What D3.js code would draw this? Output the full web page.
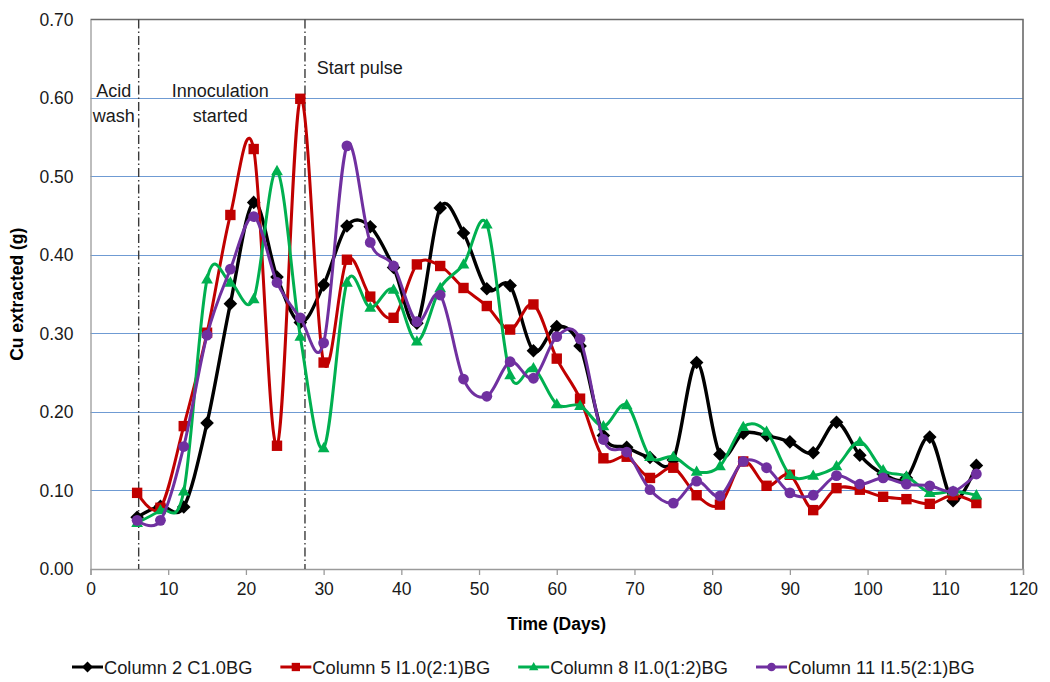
<!DOCTYPE html>
<html>
<head>
<meta charset="utf-8">
<script src="https://cdn.jsdelivr.net/npm/d3@7"></script>
<style>
  html, body { margin: 0; padding: 0; background: #fff; }
  svg { display: block; font-family: "Liberation Sans", Arial, sans-serif; }
</style>
</head>
<body>
<svg id="chart" width="1050" height="682"></svg>
<script>
// Sampling days (every 3 days from day 6)
const days = [6, 9, 12, 15, 18, 21, 24, 27, 30, 33, 36, 39, 42, 45, 48, 51, 54, 57, 60,
              63, 66, 69, 72, 75, 78, 81, 84, 87, 90, 93, 96, 99, 102, 105, 108, 111, 114];

// Cu extracted (g) per column
const col2 = [0.066, 0.080, 0.079, 0.186, 0.338, 0.467, 0.372, 0.314, 0.362, 0.437, 0.436, 0.384,
              0.313, 0.460, 0.428, 0.357, 0.361, 0.278, 0.309, 0.284, 0.170, 0.155, 0.142, 0.139,
              0.263, 0.146, 0.173, 0.170, 0.162, 0.148, 0.187, 0.145, 0.121, 0.116, 0.168, 0.087, 0.132];
const col5 = [0.097, 0.078, 0.182, 0.301, 0.451, 0.535, 0.157, 0.599, 0.263, 0.394, 0.347, 0.320,
              0.388, 0.386, 0.358, 0.335, 0.305, 0.337, 0.268, 0.217, 0.141, 0.143, 0.116, 0.129,
              0.094, 0.082, 0.137, 0.106, 0.120, 0.075, 0.103, 0.101, 0.092, 0.089, 0.083, 0.094, 0.084];
const col8 = [0.059, 0.075, 0.099, 0.369, 0.365, 0.344, 0.507, 0.296, 0.154, 0.365, 0.333, 0.356,
              0.290, 0.358, 0.388, 0.439, 0.247, 0.256, 0.210, 0.208, 0.182, 0.209, 0.143, 0.143,
              0.124, 0.131, 0.181, 0.175, 0.120, 0.119, 0.131, 0.162, 0.126, 0.118, 0.097, 0.099, 0.094];
const col11 = [0.062, 0.062, 0.156, 0.298, 0.382, 0.449, 0.365, 0.320, 0.288, 0.539, 0.416, 0.386,
               0.315, 0.349, 0.242, 0.220, 0.264, 0.243, 0.296, 0.293, 0.165, 0.149, 0.101, 0.084,
               0.112, 0.093, 0.137, 0.129, 0.097, 0.094, 0.119, 0.108, 0.116, 0.108, 0.106, 0.099, 0.121];

const seriesNames = ["Column 2 C1.0BG", "Column 5 I1.0(2:1)BG", "Column 8 I1.0(1:2)BG", "Column 11 I1.5(2:1)BG"];
const seriesColors = ["#000000", "#c00000", "#00b050", "#7030a0"];
const seriesShapes = ["diamond", "square", "triangle", "circle"];
const seriesValues = [col2, col5, col8, col11];

const xTicks = [0, 10, 20, 30, 40, 50, 60, 70, 80, 90, 100, 110, 120];
const yTicks = [0, 0.1, 0.2, 0.3, 0.4, 0.5, 0.6, 0.7];

// Event markers (day) and their notes
const events = [6.2, 27.6];
const notes = [
  { day: 3.0, lines: ["Acid", "wash"], anchor: "middle" },
  { day: 16.7, lines: ["Innoculation", "started"], anchor: "middle" },
  { day: 29.1, lines: ["Start pulse"], anchor: "start", top: true }
];

const svg = d3.select("#chart");
const L = 90.5, R = 1023, T = 19.5, B = 569;
const x = d3.scaleLinear().domain([0, 120]).range([L, R]);
const y = d3.scaleLinear().domain([0, 0.7]).range([B, T]);

// Horizontal gridlines
svg.append("g").selectAll("line")
  .data(yTicks.filter(v => v > 0 && v < 0.7))
  .join("line")
  .attr("x1", L).attr("x2", R)
  .attr("y1", d => Math.round(y(d)) + 0.5).attr("y2", d => Math.round(y(d)) + 0.5)
  .attr("stroke", "#6f9bd3").attr("stroke-width", 1.2);

// Plot frame: top and right
svg.append("path")
  .attr("d", `M${L},${T} H${R} V${B}`)
  .attr("fill", "none").attr("stroke", "#6a6a6a").attr("stroke-width", 1.6);

// X axis
const xAxis = svg.append("g").attr("transform", `translate(0,${B})`)
  .call(d3.axisBottom(x).tickValues(xTicks).tickSize(6).tickPadding(8).tickFormat(d3.format("d")));
xAxis.select(".domain").attr("stroke", "#9a9a9a").attr("stroke-width", 1.3);
xAxis.selectAll(".tick line").attr("stroke", "#9a9a9a").attr("stroke-width", 1.3);
xAxis.selectAll("text").attr("font-size", 17.5).attr("fill", "#1a1a1a")
  .attr("font-family", "Liberation Sans, Arial, sans-serif");

// Y axis
const yAxis = svg.append("g").attr("transform", `translate(${L},0)`)
  .call(d3.axisLeft(y).tickValues(yTicks).tickSize(0).tickPadding(17).tickFormat(d3.format(".2f")));
yAxis.select(".domain").attr("stroke", "#9a9a9a").attr("stroke-width", 1.3);
yAxis.selectAll("text").attr("font-size", 17.5).attr("fill", "#1a1a1a")
  .attr("font-family", "Liberation Sans, Arial, sans-serif");

// Axis titles
svg.append("text")
  .attr("x", (L + R) / 2).attr("y", 630)
  .attr("text-anchor", "middle").attr("font-weight", "bold").attr("font-size", 17.5)
  .text("Time (Days)");
svg.append("text")
  .attr("transform", `translate(23,${(T + B) / 2}) rotate(-90)`)
  .attr("text-anchor", "middle").attr("font-weight", "bold").attr("font-size", 17.5)
  .text("Cu extracted (g)");

// Event lines
svg.append("g").selectAll("line")
  .data(events).join("line")
  .attr("x1", d => x(d)).attr("x2", d => x(d))
  .attr("y1", T).attr("y2", B)
  .attr("stroke", "#3a3a3a").attr("stroke-width", 1.4)
  .attr("stroke-dasharray", "9,3,1.5,3");

// Event notes
notes.forEach(n => {
  const t = svg.append("text")
    .attr("text-anchor", n.anchor).attr("font-size", 18).attr("fill", "#1a1a1a");
  n.lines.forEach((ln, i) => {
    t.append("tspan")
      .attr("x", x(n.day))
      .attr("y", (n.top ? 74 : 97) + i * 25)
      .text(ln);
  });
});

// Marker shapes
function markerPath(shape, s) {
  if (shape === "diamond") return `M0,${-s} L${s},0 L0,${s} L${-s},0 Z`;
  if (shape === "square") return `M${-s},${-s} H${s} V${s} H${-s} Z`;
  if (shape === "triangle") return `M0,${-s * 1.1} L${s * 1.05},${s * 0.75} L${-s * 1.05},${s * 0.75} Z`;
  return d3.arc()({ innerRadius: 0, outerRadius: s, startAngle: 0, endAngle: 2 * Math.PI });
}
const markerSize = { diamond: 6.8, square: 5.2, triangle: 5.6, circle: 5.4 };

const line = d3.line()
  .x(d => x(d[0])).y(d => y(d[1]))
  .curve(d3.curveCardinal.tension(0));

// Series
seriesValues.forEach((vals, si) => {
  const pts = days.map((d, i) => [d, vals[i]]);
  const g = svg.append("g");
  g.append("path")
    .attr("d", line(pts))
    .attr("fill", "none")
    .attr("stroke", seriesColors[si])
    .attr("stroke-width", si === 0 ? 3.4 : 3)
    .attr("stroke-linejoin", "round");
  g.selectAll("path.m")
    .data(pts).join("path")
    .attr("class", "m")
    .attr("transform", d => `translate(${x(d[0])},${y(d[1])})`)
    .attr("d", markerPath(seriesShapes[si], markerSize[seriesShapes[si]]))
    .attr("fill", seriesColors[si]);
});

// Legend
const legend = svg.append("g").attr("transform", "translate(0,667)");
let lx = 72;
seriesNames.forEach((name, si) => {
  const g = legend.append("g").attr("transform", `translate(${lx},0)`);
  g.append("line").attr("x1", 0).attr("x2", 31).attr("y1", 0).attr("y2", 0)
    .attr("stroke", seriesColors[si]).attr("stroke-width", 3);
  g.append("path").attr("transform", "translate(15.5,0)")
    .attr("d", markerPath(seriesShapes[si], markerSize[seriesShapes[si]] * 0.8))
    .attr("fill", seriesColors[si]);
  const t = g.append("text").attr("x", 32).attr("y", 6.5)
    .attr("font-size", 18.3).attr("fill", "#1a1a1a").text(name);
  lx += 32 + t.node().getComputedTextLength() + 28;
});
</script>
</body>
</html>
